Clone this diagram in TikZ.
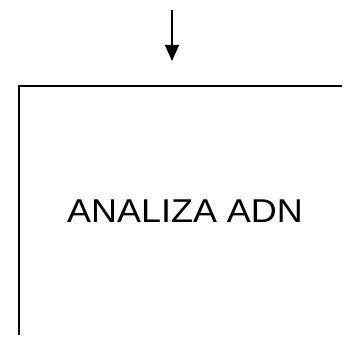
\documentclass[tikz,border=0pt]{standalone}
\usepackage{fontspec}
\setmainfont{Liberation Sans}
\usetikzlibrary{arrows.meta}
\begin{document}
\begin{tikzpicture}[x=1pt,y=-1pt,
  frameline/.style={line width=2pt},
  flowarrow/.style={line width=1.3pt,-{Triangle[length=16pt,width=14pt]}},
  label/.style={font=\fontsize{33}{36}\selectfont,inner sep=0pt,xscale=1.09}]
\useasboundingbox (0,0) rectangle (346,339);
\coordinate (atop) at (172,10);
\coordinate (abot) at (172,61);
\draw[flowarrow] (atop) -- (abot);
\coordinate (tr) at (342,86.5);
\coordinate (tl) at (18.5,86.5);
\coordinate (bl) at (18.5,335);
\draw[frameline] (tr) -- (tl) -- (bl);
\node[label] (txt) at (185,211.5) {ANALIZA ADN};
\end{tikzpicture}
\end{document}
